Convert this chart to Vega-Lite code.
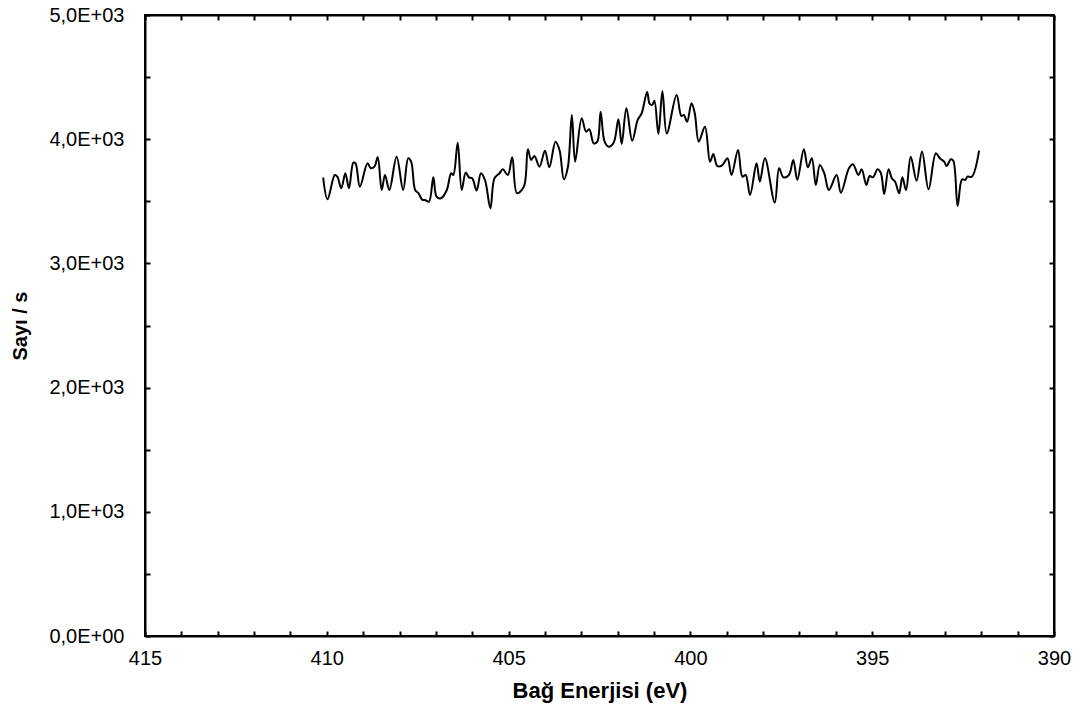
{
  "$schema": "https://vega.github.io/schema/vega-lite/v6.json",
  "width": 909,
  "height": 621,
  "autosize": "none",
  "padding": {"left": 145, "top": 15, "right": 32, "bottom": 77},
  "background": "white",
  "config": {
    "view": {"stroke": "black", "strokeWidth": 2},
    "font": "Liberation Sans",
    "axis": {
      "grid": false,
      "domainColor": "black",
      "domainWidth": 2,
      "tickColor": "black",
      "tickWidth": 2,
      "tickSize": -5,
      "labelFont": "Liberation Sans",
      "labelFontSize": 20,
      "labelColor": "black",
      "labelOverlap": false,
      "labelFlush": false,
      "titleFont": "Liberation Sans",
      "titleFontSize": 20,
      "titleFontWeight": "bold",
      "titleColor": "black"
    }
  },
  "data": {
    "values": [
      {"be": 410.10, "cps": 3690}, {"be": 409.98, "cps": 3516}, {"be": 409.78, "cps": 3712}, {"be": 409.71, "cps": 3698},
      {"be": 409.60, "cps": 3605}, {"be": 409.49, "cps": 3726}, {"be": 409.39, "cps": 3605}, {"be": 409.27, "cps": 3811},
      {"be": 409.21, "cps": 3806}, {"be": 409.09, "cps": 3618}, {"be": 408.88, "cps": 3806}, {"be": 408.79, "cps": 3766},
      {"be": 408.69, "cps": 3779}, {"be": 408.60, "cps": 3855}, {"be": 408.49, "cps": 3591}, {"be": 408.40, "cps": 3712},
      {"be": 408.28, "cps": 3591}, {"be": 408.08, "cps": 3859}, {"be": 407.90, "cps": 3591}, {"be": 407.76, "cps": 3846},
      {"be": 407.68, "cps": 3819}, {"be": 407.57, "cps": 3591}, {"be": 407.48, "cps": 3565}, {"be": 407.37, "cps": 3511},
      {"be": 407.30, "cps": 3511}, {"be": 407.19, "cps": 3497}, {"be": 407.07, "cps": 3693}, {"be": 406.98, "cps": 3537},
      {"be": 406.86, "cps": 3524}, {"be": 406.70, "cps": 3591}, {"be": 406.58, "cps": 3726}, {"be": 406.52, "cps": 3712},
      {"be": 406.40, "cps": 3972}, {"be": 406.29, "cps": 3591}, {"be": 406.18, "cps": 3731}, {"be": 406.09, "cps": 3693},
      {"be": 406.00, "cps": 3685}, {"be": 405.88, "cps": 3586}, {"be": 405.76, "cps": 3726}, {"be": 405.65, "cps": 3672},
      {"be": 405.50, "cps": 3444}, {"be": 405.39, "cps": 3685}, {"be": 405.25, "cps": 3726}, {"be": 405.16, "cps": 3758},
      {"be": 405.02, "cps": 3712}, {"be": 404.90, "cps": 3855}, {"be": 404.77, "cps": 3565}, {"be": 404.58, "cps": 3618},
      {"be": 404.47, "cps": 3919}, {"be": 404.38, "cps": 3833}, {"be": 404.29, "cps": 3865}, {"be": 404.15, "cps": 3779},
      {"be": 404.00, "cps": 3908}, {"be": 403.88, "cps": 3774}, {"be": 403.71, "cps": 3980}, {"be": 403.60, "cps": 3913},
      {"be": 403.48, "cps": 3677}, {"be": 403.37, "cps": 3774}, {"be": 403.26, "cps": 4195}, {"be": 403.17, "cps": 3819},
      {"be": 402.99, "cps": 4169}, {"be": 402.87, "cps": 4061}, {"be": 402.78, "cps": 4080}, {"be": 402.66, "cps": 3967},
      {"be": 402.56, "cps": 3980}, {"be": 402.47, "cps": 4222}, {"be": 402.36, "cps": 3980}, {"be": 402.25, "cps": 3940},
      {"be": 402.11, "cps": 3972}, {"be": 401.98, "cps": 4161}, {"be": 401.89, "cps": 3962}, {"be": 401.76, "cps": 4249},
      {"be": 401.60, "cps": 3988}, {"be": 401.45, "cps": 4155}, {"be": 401.34, "cps": 4209}, {"be": 401.19, "cps": 4380},
      {"be": 401.12, "cps": 4284}, {"be": 401.05, "cps": 4276}, {"be": 400.99, "cps": 4310}, {"be": 400.88, "cps": 4042},
      {"be": 400.77, "cps": 4386}, {"be": 400.65, "cps": 4046}, {"be": 400.38, "cps": 4356}, {"be": 400.25, "cps": 4187},
      {"be": 400.18, "cps": 4195}, {"be": 400.09, "cps": 4141}, {"be": 399.97, "cps": 4289}, {"be": 399.88, "cps": 4209},
      {"be": 399.77, "cps": 3980}, {"be": 399.60, "cps": 4101}, {"be": 399.46, "cps": 3819}, {"be": 399.37, "cps": 3881},
      {"be": 399.26, "cps": 3784}, {"be": 399.12, "cps": 3792}, {"be": 398.98, "cps": 3846}, {"be": 398.87, "cps": 3712},
      {"be": 398.69, "cps": 3913}, {"be": 398.57, "cps": 3698}, {"be": 398.48, "cps": 3712}, {"be": 398.36, "cps": 3551},
      {"be": 398.18, "cps": 3806}, {"be": 398.09, "cps": 3658}, {"be": 397.95, "cps": 3846}, {"be": 397.68, "cps": 3489},
      {"be": 397.56, "cps": 3766}, {"be": 397.44, "cps": 3693}, {"be": 397.29, "cps": 3712}, {"be": 397.17, "cps": 3833},
      {"be": 397.06, "cps": 3672}, {"be": 396.88, "cps": 3919}, {"be": 396.77, "cps": 3774}, {"be": 396.66, "cps": 3846},
      {"be": 396.55, "cps": 3631}, {"be": 396.44, "cps": 3792}, {"be": 396.32, "cps": 3726}, {"be": 396.19, "cps": 3591},
      {"be": 395.98, "cps": 3712}, {"be": 395.86, "cps": 3569}, {"be": 395.64, "cps": 3766}, {"be": 395.53, "cps": 3798},
      {"be": 395.38, "cps": 3712}, {"be": 395.29, "cps": 3758}, {"be": 395.16, "cps": 3631}, {"be": 395.07, "cps": 3704},
      {"be": 394.98, "cps": 3693}, {"be": 394.85, "cps": 3758}, {"be": 394.76, "cps": 3726}, {"be": 394.67, "cps": 3559},
      {"be": 394.55, "cps": 3758}, {"be": 394.46, "cps": 3685}, {"be": 394.37, "cps": 3658}, {"be": 394.26, "cps": 3565},
      {"be": 394.17, "cps": 3693}, {"be": 394.07, "cps": 3591}, {"be": 393.94, "cps": 3859}, {"be": 393.78, "cps": 3666},
      {"be": 393.63, "cps": 3900}, {"be": 393.45, "cps": 3597}, {"be": 393.25, "cps": 3887}, {"be": 393.14, "cps": 3846},
      {"be": 393.02, "cps": 3819}, {"be": 392.95, "cps": 3784}, {"be": 392.84, "cps": 3838}, {"be": 392.77, "cps": 3827},
      {"be": 392.65, "cps": 3462}, {"be": 392.53, "cps": 3677}, {"be": 392.44, "cps": 3672}, {"be": 392.38, "cps": 3698},
      {"be": 392.26, "cps": 3698}, {"be": 392.06, "cps": 3908}
    ]
  },
  "layer": [
    {
      "mark": {"type": "line", "color": "black", "strokeWidth": 2, "interpolate": "catmull-rom"},
      "encoding": {
        "x": {
          "field": "be", "type": "quantitative",
          "scale": {"domain": [390, 415], "reverse": true, "nice": false, "zero": false},
          "axis": {
            "orient": "bottom",
            "values": [390,391,392,393,394,395,396,397,398,399,400,401,402,403,404,405,406,407,408,409,410,411,412,413,414,415],
            "labelExpr": "datum.value % 5 === 0 ? datum.label : ''",
            "labelPadding": 17,
            "title": "Bağ Enerjisi (eV)",
            "titleFontSize": 22,
            "titlePadding": 12
          }
        },
        "y": {
          "field": "cps", "type": "quantitative",
          "scale": {"domain": [0, 5000], "nice": false},
          "axis": {
            "orient": "left",
            "values": [0,500,1000,1500,2000,2500,3000,3500,4000,4500,5000],
            "labelExpr": "datum.value % 1000 === 0 ? (datum.value === 0 ? '0,0E+00' : replace(format(datum.value / 1000, '.1f'), '.', ',') + 'E+03') : ''",
            "labelPadding": 26,
            "title": "Sayı / s",
            "titlePadding": 18
          }
        }
      }
    },
    {
      "mark": {"type": "line", "strokeOpacity": 0},
      "encoding": {
        "x": {
          "field": "be", "type": "quantitative",
          "scale": {"domain": [390, 415], "reverse": true, "nice": false, "zero": false},
          "axis": {
            "orient": "top",
            "values": [390,391,392,393,394,395,396,397,398,399,400,401,402,403,404,405,406,407,408,409,410,411,412,413,414,415],
            "labels": false,
            "title": null
          }
        },
        "y": {
          "field": "cps", "type": "quantitative",
          "scale": {"domain": [0, 5000], "nice": false},
          "axis": {
            "orient": "right",
            "values": [0,500,1000,1500,2000,2500,3000,3500,4000,4500,5000],
            "labels": false,
            "title": null
          }
        }
      }
    }
  ],
  "resolve": {"axis": {"x": "independent", "y": "independent"}}
}
